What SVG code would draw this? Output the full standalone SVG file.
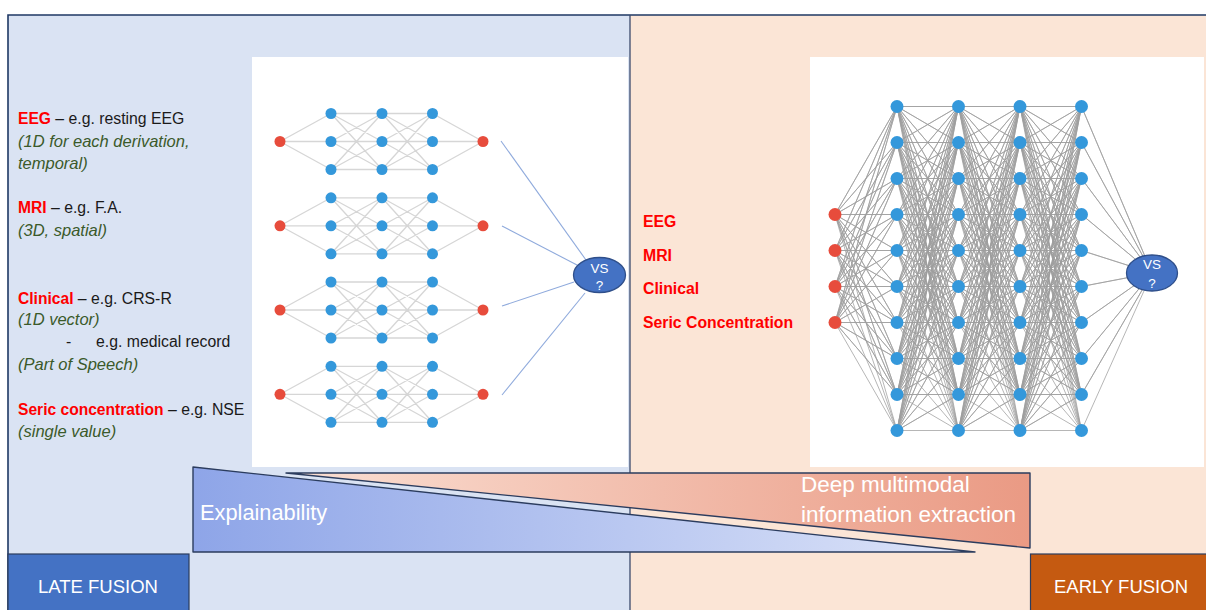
<svg xmlns="http://www.w3.org/2000/svg" xmlns:xlink="http://www.w3.org/1999/xlink" width="1206" height="610" viewBox="0 0 1206 610">
<style>
.t{font-family:"Liberation Sans",Arial,sans-serif;}
.lbl{font-size:15.8px;fill:#1a1a1a;}
.red{fill:#FF0000;font-weight:bold;font-size:15.6px;}
.it{font-style:italic;fill:#3B5A2A;font-size:16.5px;}
.rl{font-size:15.8px;fill:#FF0000;font-weight:bold;}
.wh{fill:#FFFFFF;}
.bn{fill:#3498DB;}
.rn{fill:#E74C3C;}
.ml{fill:none;stroke:#D6D6D6;stroke-width:1.3;}
.dl{fill:none;stroke:#9E9E9E;stroke-width:0.75;stroke-linejoin:round;}
.cn{fill:none;stroke:#8FAADC;stroke-width:1.1;}
.vs{fill:#4472C4;stroke:#2F4F8A;stroke-width:1.3;}
</style>
<defs>
<linearGradient id="gBlue" x1="0" y1="0" x2="1" y2="0">
<stop offset="0" stop-color="#8EA5E8"/>
<stop offset="1" stop-color="#DDE4F8"/>
</linearGradient>
<linearGradient id="gPink" x1="0" y1="0" x2="1" y2="0">
<stop offset="0" stop-color="#FADFD3"/>
<stop offset="1" stop-color="#EA9A84"/>
</linearGradient>
<g id="miniNet">
<path class="ml" d="M331 -28L280 0 331 0M280 0L331 28M331 -28L382 -28M331 -28L382 0M331 -28L382 28M331 0L382 -28M331 0L382 0M331 0L382 28M331 28L382 -28M331 28L382 0M331 28L382 28M382 -28L432.5 -28M382 -28L432.5 0M382 -28L432.5 28M382 0L432.5 -28M382 0L432.5 0M382 0L432.5 28M382 28L432.5 -28M382 28L432.5 0M382 28L432.5 28M432.5 -28L483 0M432.5 0L483 0M432.5 28L483 0"/>
<circle class="rn" cx="280" cy="0" r="5.5"/>
<circle class="bn" cx="331" cy="-28" r="5.5"/><circle class="bn" cx="331" cy="0" r="5.5"/><circle class="bn" cx="331" cy="28" r="5.5"/>
<circle class="bn" cx="382" cy="-28" r="5.5"/><circle class="bn" cx="382" cy="0" r="5.5"/><circle class="bn" cx="382" cy="28" r="5.5"/>
<circle class="bn" cx="432.5" cy="-28" r="5.5"/><circle class="bn" cx="432.5" cy="0" r="5.5"/><circle class="bn" cx="432.5" cy="28" r="5.5"/>
<circle class="rn" cx="483" cy="0" r="5.5"/>
</g>
<path id="block" class="dl" d="M0 0L61.5 0 0 0 61.5 36 0 0 61.5 72 0 0 61.5 108 0 0 61.5 144 0 0 61.5 180 0 0 61.5 216 0 0 61.5 252 0 0 61.5 288 0 0 61.5 324M0 36L61.5 0 0 36 61.5 36 0 36 61.5 72 0 36 61.5 108 0 36 61.5 144 0 36 61.5 180 0 36 61.5 216 0 36 61.5 252 0 36 61.5 288 0 36 61.5 324M0 72L61.5 0 0 72 61.5 36 0 72 61.5 72 0 72 61.5 108 0 72 61.5 144 0 72 61.5 180 0 72 61.5 216 0 72 61.5 252 0 72 61.5 288 0 72 61.5 324M0 108L61.5 0 0 108 61.5 36 0 108 61.5 72 0 108 61.5 108 0 108 61.5 144 0 108 61.5 180 0 108 61.5 216 0 108 61.5 252 0 108 61.5 288 0 108 61.5 324M0 144L61.5 0 0 144 61.5 36 0 144 61.5 72 0 144 61.5 108 0 144 61.5 144 0 144 61.5 180 0 144 61.5 216 0 144 61.5 252 0 144 61.5 288 0 144 61.5 324M0 180L61.5 0 0 180 61.5 36 0 180 61.5 72 0 180 61.5 108 0 180 61.5 144 0 180 61.5 180 0 180 61.5 216 0 180 61.5 252 0 180 61.5 288 0 180 61.5 324M0 216L61.5 0 0 216 61.5 36 0 216 61.5 72 0 216 61.5 108 0 216 61.5 144 0 216 61.5 180 0 216 61.5 216 0 216 61.5 252 0 216 61.5 288 0 216 61.5 324M0 252L61.5 0 0 252 61.5 36 0 252 61.5 72 0 252 61.5 108 0 252 61.5 144 0 252 61.5 180 0 252 61.5 216 0 252 61.5 252 0 252 61.5 288 0 252 61.5 324M0 288L61.5 0 0 288 61.5 36 0 288 61.5 72 0 288 61.5 108 0 288 61.5 144 0 288 61.5 180 0 288 61.5 216 0 288 61.5 252 0 288 61.5 288 0 288 61.5 324M0 324L61.5 0 0 324 61.5 36 0 324 61.5 72 0 324 61.5 108 0 324 61.5 144 0 324 61.5 180 0 324 61.5 216 0 324 61.5 252 0 324 61.5 288 0 324 61.5 324"/>
<g id="col">
<circle class="bn" cx="0" cy="0" r="6.5"/><circle class="bn" cx="0" cy="36" r="6.5"/><circle class="bn" cx="0" cy="72" r="6.5"/><circle class="bn" cx="0" cy="108" r="6.5"/><circle class="bn" cx="0" cy="144" r="6.5"/><circle class="bn" cx="0" cy="180" r="6.5"/><circle class="bn" cx="0" cy="216" r="6.5"/><circle class="bn" cx="0" cy="252" r="6.5"/><circle class="bn" cx="0" cy="288" r="6.5"/><circle class="bn" cx="0" cy="324" r="6.5"/>
</g>
</defs>

<rect width="1206" height="610" fill="#FFFFFF"/>
<g id="late-panel">
<rect x="8" y="15" width="622" height="595" fill="#DAE3F3"/>
</g>
<g id="early-panel">
<rect x="630" y="15" width="576" height="595" fill="#FBE5D6"/>
</g>
<path d="M8 610V15H1206" fill="none" stroke="#1F3864" stroke-width="1.6"/>
<line x1="630" y1="15" x2="630" y2="610" stroke="#3B4A6B" stroke-width="1.3"/>

<g id="late-image">
<rect x="252" y="57" width="376" height="410" fill="#FFFFFF"/>
<use xlink:href="#miniNet" href="#miniNet" y="141.5"/>
<use xlink:href="#miniNet" href="#miniNet" y="225.8"/>
<use xlink:href="#miniNet" href="#miniNet" y="310"/>
<use xlink:href="#miniNet" href="#miniNet" y="394.3"/>
</g>

<g id="early-image">
<rect x="810" y="57" width="394" height="410" fill="#FFFFFF"/>
<g transform="translate(835 106.5)">
<path class="dl" d="M0 108L62 0 0 108 62 36 0 108 62 72 0 108 62 108 0 108 62 144 0 108 62 180 0 108 62 216 0 108 62 252 0 108 62 288 0 108 62 324M0 144L62 0 0 144 62 36 0 144 62 72 0 144 62 108 0 144 62 144 0 144 62 180 0 144 62 216 0 144 62 252 0 144 62 288 0 144 62 324M0 180L62 0 0 180 62 36 0 180 62 72 0 180 62 108 0 180 62 144 0 180 62 180 0 180 62 216 0 180 62 252 0 180 62 288 0 180 62 324M0 216L62 0 0 216 62 36 0 216 62 72 0 216 62 108 0 216 62 144 0 216 62 180 0 216 62 216 0 216 62 252 0 216 62 288 0 216 62 324"/>
</g>
<use xlink:href="#block" href="#block" transform="translate(897 106.5)"/>
<use xlink:href="#block" href="#block" transform="translate(958.5 106.5)"/>
<use xlink:href="#block" href="#block" transform="translate(1020 106.5)"/>
<g transform="translate(1081.5 106.5)">
<path class="dl" d="M70.5 166.5L0 0 70.5 166.5 0 36 70.5 166.5 0 72 70.5 166.5 0 108 70.5 166.5 0 144 70.5 166.5 0 180 70.5 166.5 0 216 70.5 166.5 0 252 70.5 166.5 0 288 70.5 166.5 0 324"/>
</g>
<circle class="rn" cx="835" cy="214.5" r="6.5"/>
<circle class="rn" cx="835" cy="250.5" r="6.5"/>
<circle class="rn" cx="835" cy="286.5" r="6.5"/>
<circle class="rn" cx="835" cy="322.5" r="6.5"/>
<use xlink:href="#col" href="#col" transform="translate(897 106.5)"/>
<use xlink:href="#col" href="#col" transform="translate(958.5 106.5)"/>
<use xlink:href="#col" href="#col" transform="translate(1020 106.5)"/>
<use xlink:href="#col" href="#col" transform="translate(1081.5 106.5)"/>
</g>

<g id="connectors">
<line class="cn" x1="501" y1="141" x2="586" y2="260"/>
<line class="cn" x1="502" y1="226" x2="577" y2="265"/>
<line class="cn" x1="502" y1="306" x2="574" y2="282"/>
<line class="cn" x1="502" y1="395" x2="585" y2="293"/>
</g>

<g id="vs-late">
<ellipse class="vs" cx="599.5" cy="275" rx="26" ry="17.5"/>
<text class="t wh" x="599.5" y="272.5" font-size="13.5" text-anchor="middle">VS</text>
<text class="t wh" x="599.5" y="290" font-size="13.5" text-anchor="middle">?</text>
</g>
<g id="vs-early">
<ellipse class="vs" cx="1152" cy="273" rx="25.5" ry="18"/>
<text class="t wh" x="1152" y="268.5" font-size="13.5" text-anchor="middle">VS</text>
<text class="t wh" x="1152" y="287.5" font-size="13.5" text-anchor="middle">?</text>
</g>

<g id="late-labels" class="t lbl">
<text x="18" y="124"><tspan class="red">EEG</tspan> – e.g. resting EEG</text>
<text x="18" y="146.5" class="it">(1D for each derivation,</text>
<text x="18" y="169" class="it">temporal)</text>
<text x="18" y="213"><tspan class="red">MRI</tspan> – e.g. F.A.</text>
<text x="18" y="236" class="it">(3D, spatial)</text>
<text x="18" y="303.5"><tspan class="red">Clinical</tspan> – e.g. CRS-R</text>
<text x="18" y="325" class="it">(1D vector)</text>
<text x="66" y="347">-</text>
<text x="96" y="347">e.g. medical record</text>
<text x="18" y="369.5" class="it">(Part of Speech)</text>
<text x="18" y="414.5"><tspan class="red">Seric concentration</tspan> – e.g. NSE</text>
<text x="18" y="437" class="it">(single value)</text>
</g>

<g id="early-labels" class="t rl">
<text x="643" y="226.5">EEG</text>
<text x="643" y="260.5">MRI</text>
<text x="643" y="294">Clinical</text>
<text x="643" y="327.5">Seric Concentration</text>
</g>

<g id="explainability">
<polygon points="193,467 193,552 975,552" fill="url(#gBlue)" stroke="#2B3C5E" stroke-width="1.4" stroke-linejoin="round"/>
<text class="t wh" x="200" y="520" font-size="21.8">Explainability</text>
</g>
<g id="deep-extraction">
<polygon points="286,473 1030,473 1030,548" fill="url(#gPink)" stroke="#2B3C5E" stroke-width="1.4" stroke-linejoin="round"/>
<text class="t wh" x="801" y="492" font-size="22.5">Deep multimodal</text>
<text class="t wh" x="801" y="522" font-size="22.5">information extraction</text>
</g>

<g id="late-fusion">
<rect x="8" y="554" width="181" height="58" fill="#4472C4" stroke="#2B3C5E" stroke-width="1.2"/>
<text class="t wh" x="98" y="592.5" font-size="18.5" text-anchor="middle">LATE FUSION</text>
</g>
<g id="early-fusion">
<rect x="1030.5" y="554" width="177" height="58" fill="#C55A11" stroke="#2B3C5E" stroke-width="1.2"/>
<text class="t wh" x="1121" y="592.5" font-size="18.5" text-anchor="middle">EARLY FUSION</text>
</g>
</svg>
